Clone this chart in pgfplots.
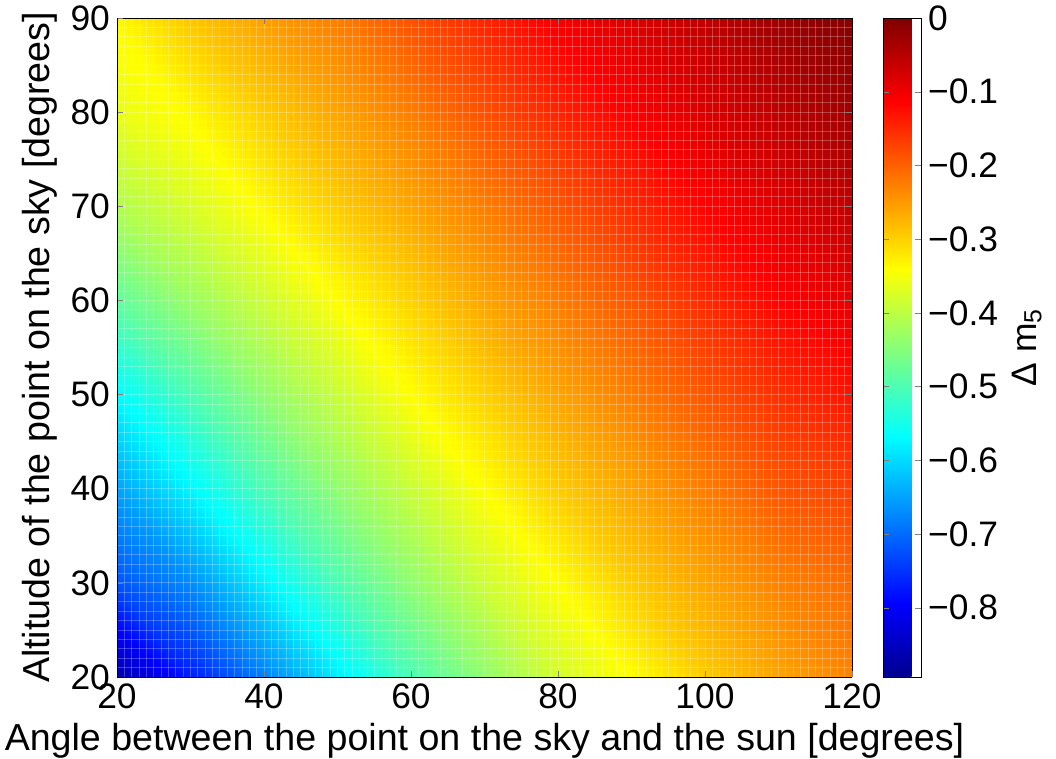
\documentclass[border=0pt]{standalone}
\usepackage{fontspec}
\setmainfont{Liberation Sans}
\usepackage{pgfplots}
\pgfplotsset{compat=1.18}
\newcommand{\lbl}{\fontsize{17.7}{21}\selectfont}
\newcommand{\axlbl}{\fontsize{18.8}{22}\selectfont}

% Delta m5, every 10 deg (x = angle to sun, y = altitude)
\pgfplotstableread{
x y z
20 20 -0.870
30 20 -0.770
40 20 -0.680
50 20 -0.585
60 20 -0.500
70 20 -0.440
80 20 -0.380
90 20 -0.340
100 20 -0.295
110 20 -0.260
120 20 -0.230
20 30 -0.720
30 30 -0.670
40 30 -0.580
50 30 -0.500
60 30 -0.440
70 30 -0.385
80 30 -0.340
90 30 -0.295
100 30 -0.260
110 30 -0.230
120 30 -0.210
20 40 -0.650
30 40 -0.575
40 40 -0.500
50 40 -0.440
60 40 -0.390
70 40 -0.340
80 40 -0.295
90 40 -0.260
100 40 -0.225
110 40 -0.190
120 40 -0.170
20 50 -0.570
30 50 -0.500
40 50 -0.440
50 50 -0.390
60 50 -0.340
70 50 -0.300
80 50 -0.260
90 50 -0.225
100 50 -0.190
110 50 -0.155
120 50 -0.130
20 60 -0.480
30 60 -0.430
40 60 -0.385
50 60 -0.340
60 60 -0.300
70 60 -0.260
80 60 -0.225
90 60 -0.190
100 60 -0.150
110 60 -0.115
120 60 -0.090
20 70 -0.410
30 70 -0.375
40 70 -0.335
50 70 -0.295
60 70 -0.260
70 70 -0.225
80 70 -0.190
90 70 -0.150
100 70 -0.115
110 70 -0.085
120 70 -0.055
20 80 -0.360
30 80 -0.335
40 80 -0.295
50 80 -0.260
60 80 -0.225
70 80 -0.185
80 80 -0.145
90 80 -0.110
100 80 -0.080
110 80 -0.055
120 80 -0.030
20 90 -0.335
30 90 -0.290
40 90 -0.255
50 90 -0.225
60 90 -0.185
70 90 -0.145
80 90 -0.105
90 90 -0.080
100 90 -0.055
110 90 -0.025
120 90 -0.005
}\dmfive

\begin{document}
\begin{tikzpicture}
\begin{axis}[
  at={(0,0)}, anchor=south west,
  scale only axis, width=367.5pt, height=329.5pt,
  view={0}{90},
  xmin=20, xmax=120, ymin=20, ymax=90,
  xtick={20,40,...,120}, ytick={20,30,...,90},
  minor x tick num=19, minor y tick num=9,
  minor tick length=0pt, major tick length=3pt,
  tick align=inside,
  grid=both,
  major grid style={white, opacity=0.25, line width=0.4pt},
  minor grid style={white, opacity=0.25, line width=0.4pt},
  axis on top,
  /pgf/number format/assume math mode=true,
  tick label style={font=\lbl},
  label style={font=\axlbl},
  xlabel={Angle between the point on the sky and the sun [degrees]},
  ylabel={Altitude of the point on the sky [degrees]},
  colormap={mjet}{rgb255(0cm)=(0,0,143); rgb255(7cm)=(0,0,255);
    rgb255(23cm)=(0,255,255); rgb255(39cm)=(255,255,0);
    rgb255(55cm)=(255,0,0); rgb255(63cm)=(128,0,0)},
  point meta min=-0.894, point meta max=0,
  colorbar,
  colorbar style={
    at={(parent axis.north east)}, anchor=north west, xshift=7pt,
    width=19pt,
    ytick={-0.8,-0.7,-0.6,-0.5,-0.4,-0.3,-0.2,-0.1,0},
    yticklabels={−0.8,−0.7,−0.6,−0.5,−0.4,−0.3,−0.2,−0.1,0},
    ylabel={Δ m\textsubscript{5}},
    tick label style={font=\lbl},
    label style={font=\lbl},
    major tick length=3pt,
    grid=none,
  },
]
\addplot3[surf, shader=interp, mesh/cols=11, mesh/rows=8]
  table[x=x, y=y, z=z] {\dmfive};
\end{axis}
\pgfresetboundingbox
\path[use as bounding box] (-58.5pt,-41pt) rectangle (469.5pt,338.5pt);
\end{tikzpicture}
\end{document}
